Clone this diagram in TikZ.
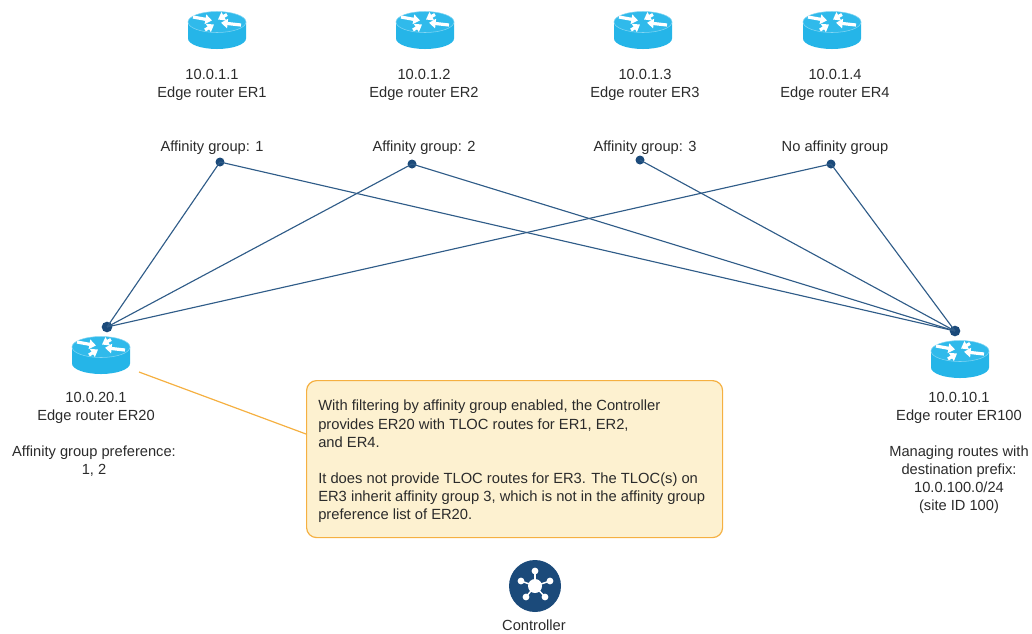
\documentclass[tikz,border=0pt]{standalone}
\usepackage{fontspec}
\usetikzlibrary{arrows.meta}
\setmainfont{Liberation Sans}
\definecolor{routerside}{HTML}{25B5E8}
\definecolor{routertop}{HTML}{30BAEB}
\definecolor{navy}{HTML}{1B4A7A}
\definecolor{linkblue}{HTML}{2F5C88}
\definecolor{noteorange}{HTML}{F5B041}
\definecolor{notefill}{HTML}{FDF1D0}
\definecolor{txt}{HTML}{2B2B2B}
\tikzset{
  x=0.75pt,y=-0.75pt,
  lbl/.style={font=\fontsize{11}{13.5}\selectfont,text=txt,align=center,inner sep=0pt},
  dotn/.style={circle,fill=navy,draw=none,minimum size=#1,inner sep=0pt},
  link/.style={draw=linkblue,line width=0.85pt},
  arr/.style={white,line width=2.4pt,-{Triangle[width=7pt,length=5pt]}},
  pics/routericon/.style={code={
    \fill[routerside] (-29,0) -- (-29,16.5) arc[x radius=29,y radius=10.5,start angle=180,end angle=0] -- (29,0) -- cycle;
    \fill[routertop,draw=white!40!routertop,line width=0.4pt] (0,0) ellipse[x radius=29,y radius=10.5];
    \draw[arr] (-24,-5) -- (-5,-1.5);
    \draw[arr] (10,-7.5) -- (1,-2.5);
    \draw[arr] (24,3) -- (4,0.8);
    \draw[arr] (-12,8) -- (-3,2.5);
  }}
}
\begin{document}
\begin{tikzpicture}
\useasboundingbox (0,0) rectangle (1032,633);
\pic at (217,22) {routericon};
\pic at (425,22) {routericon};
\pic at (643,22) {routericon};
\pic at (832,22) {routericon};
\pic at (101,347) {routericon};
\pic at (960,351) {routericon};

\node[lbl] (er1) at (212,85) {10.0.1.1\\Edge router ER1};
\node[lbl] (er2) at (424,85) {10.0.1.2\\Edge router ER2};
\node[lbl] (er3) at (645,85) {10.0.1.3\\Edge router ER3};
\node[lbl] (er4) at (835,85) {10.0.1.4\\Edge router ER4};

\node[lbl] (ag1) at (212,148) {Affinity group: 1};
\node[lbl] (ag2) at (424,148) {Affinity group: 2};
\node[lbl] (ag3) at (645,148) {Affinity group: 3};
\node[lbl] (ag4) at (835,148) {No affinity group};

\node[dotn=6.75pt] (d1) at (220,162) {};
\node[dotn=6.75pt] (d2) at (412,164) {};
\node[dotn=6.75pt] (d3) at (640,160) {};
\node[dotn=6.75pt] (d4) at (831,164) {};
\node[dotn=8pt] (d20) at (107,327) {};
\node[dotn=8pt] (d100) at (955,331) {};

\draw[link] (d20.center) -- (d1.center);
\draw[link] (d20.center) -- (d2.center);
\draw[link] (d20.center) -- (d4.center);
\draw[link] (d100.center) -- (d1.center);
\draw[link] (d100.center) -- (d2.center);
\draw[link] (d100.center) -- (d3.center);
\draw[link] (d100.center) -- (d4.center);

\node[lbl] (er20) at (96,408) {10.0.20.1\\Edge router ER20};
\node[lbl] (pref) at (94,461) {Affinity group preference:\\1, 2};
\node[lbl] (er100) at (959,408) {10.0.10.1\\Edge router ER100};
\node[lbl] (mng) at (959,480) {Managing routes with\\destination prefix:\\10.0.100.0/24\\(site ID 100)};

\coordinate (ostart) at (139,372);
\node[draw=noteorange,fill=notefill,line width=0.9pt,rounded corners=7.5pt,minimum width=312pt,minimum height=117.75pt,inner sep=0pt,anchor=north west] (note) at (306,380) {};
\coordinate (oend) at (306,434);
\draw[noteorange,line width=0.9pt] (ostart) -- (oend);
\node[font=\fontsize{11.05}{13.6}\selectfont,text=txt,align=left,anchor=north west,inner sep=0pt] (notetext) at (318,400) {With filtering by affinity group enabled, the Controller\\provides ER20 with TLOC routes for ER1, ER2,\\and ER4.\\[13.6pt]It does not provide TLOC routes for ER3. The TLOC(s) on\\ER3 inherit affinity group 3, which is not in the affinity group\\preference list of ER20.};

\node[circle,fill=navy,minimum size=39pt,inner sep=0pt] (ctrl) at (535,586) {};
\foreach \x/\y in {0/-15,-14/-5,15/-5,-9/11,10/11}{
  \draw[white,line width=1.1pt] (535,586) -- (535+\x,586+\y);
  \fill[white] (535+\x,586+\y) circle[radius=3.4];
}
\fill[white] (535,586) circle[radius=7];
\node[lbl] (ctrllabel) at (534,625) {Controller};
\end{tikzpicture}
\end{document}
